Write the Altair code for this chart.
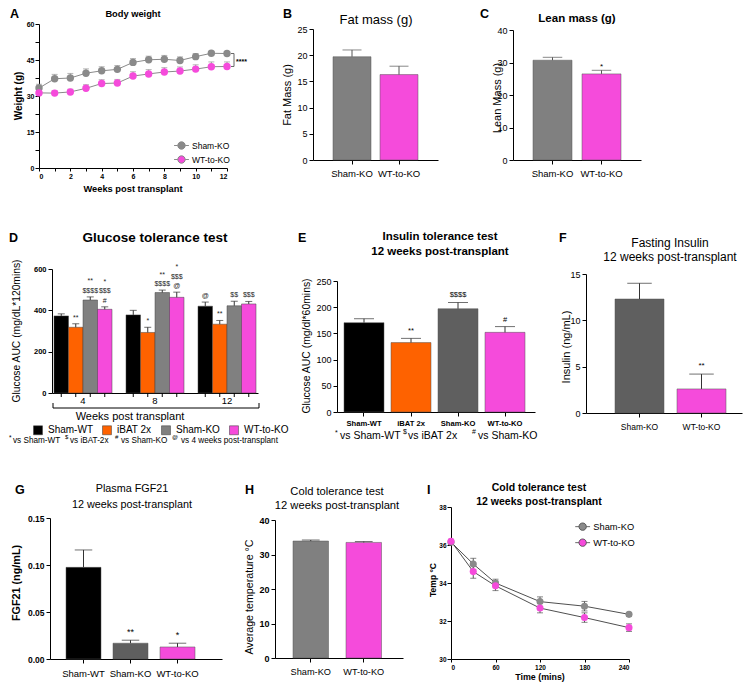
import altair as alt
import pandas as pd

FONT = "Liberation Sans, Arial, sans-serif"

# ---------------- data ----------------
# A: body weight
A_weeks = list(range(13))
A_sham = [33.3, 37.2, 37.5, 39.5, 40.5, 41.1, 44.0, 45.1, 45.3, 44.8, 46.4, 47.8, 47.7]
A_sham_err = [1.6, 1.8, 1.9, 1.8, 1.7, 1.6, 1.6, 1.5, 1.6, 1.5, 1.3, 0.8, 0.8]
A_wt = [31.3, 31.2, 31.7, 33.2, 35.2, 35.4, 38.3, 39.2, 40.0, 40.4, 41.2, 42.2, 42.3]
A_wt_err = [1.1, 1.0, 1.1, 1.5, 1.6, 1.5, 1.8, 1.8, 1.8, 1.7, 1.8, 2.0, 1.9]

KO2 = ["Sham-KO", "WT-to-KO"]
# B, C: body composition
B_fat = [19.7, 16.3]
B_fat_err = [1.3, 1.6]
C_lean = [30.7, 26.5]
C_lean_err = [0.9, 1.1]
C_stars = ["", "*"]

# D: glucose tolerance test
D_weeks = ["4", "8", "12"]
D_groups = ["Sham-WT", "iBAT 2x", "Sham-KO", "WT-to-KO"]
D_auc = {"4": [373, 318, 450, 405], "8": [378, 293, 486, 463], "12": [420, 333, 422, 431]}
D_err = {"4": [10, 17, 15, 12], "8": [22, 25, 12, 25], "12": [20, 18, 22, 12]}
D_marks = {
    "4": [[], ["**"], ["**", "$$$$"], ["*", "$$$", "#"]],
    "8": [[], ["*"], ["**", "$$$$"], ["*", "$$$", "@"]],
    "12": [["@"], ["**"], ["$$"], ["$$$"]],
}

# E: insulin tolerance test
E_auc = [170.5, 132.5, 197.0, 152.0]
E_err = [7.5, 8.0, 12.0, 11.0]
E_stars = ["", "**", "$$$$", "#"]

# F: fasting insulin
F_ins = [12.3, 2.6]
F_err = [1.7, 1.6]
F_stars = ["", "**"]

# G: plasma FGF21
G_groups = ["Sham-WT", "Sham-KO", "WT-to-KO"]
G_fgf = [0.0975, 0.0168, 0.0128]
G_err = [0.0185, 0.0032, 0.0040]
G_stars = ["", "**", "*"]

# H: cold tolerance average
H_temp = [33.9, 33.5]
H_err = [0.3, 0.25]

# I: cold tolerance time course
I_time = [0, 30, 60, 120, 180, 240]
I_sham = [36.15, 35.0, 34.0, 33.02, 32.78, 32.35]
I_sham_err = [0.1, 0.3, 0.2, 0.25, 0.25, 0.1]
I_wt = [36.2, 34.6, 33.85, 32.68, 32.18, 31.65]
I_wt_err = [0.1, 0.35, 0.25, 0.25, 0.25, 0.2]

BLACK = "#000000"
ORANGE = "#fe6200"
PINK = "#f54bdb"
GRAY = "#808080"
DGRAY = "#5f5f5f"
PGRAY = "#8a8a8a"

# legend glyph: circle with a line through it
LINE_DOT = ("M -2 0 L -1 0 M 1 0 L 2 0 "
            "M 1 0 A 1 1 0 1 1 -1 0 A 1 1 0 1 1 1 0 Z")

# grid of view origins (page pixels): column lefts and row tops
COL = [39, 275, 451]
COLW = [236, 176, 292]
ROW = [24, 168, 413]


# ---------------- helpers ----------------
def one():
    return pd.DataFrame({"k": [0]})


def anchor(vx, vy, px, py):
    # 1px white mark fixing the top-left corner of the whole figure
    return alt.Chart(one()).mark_rect(color="white").encode(
        x=alt.value(px - vx), x2=alt.value(px - vx + 1),
        y=alt.value(py - vy), y2=alt.value(py - vy + 1))


def txt(vx, vy, px, py, s, size, bold=False, align="center", angle=0, baseline="middle"):
    return alt.Chart(pd.DataFrame({"s": [s]})).mark_text(
        font=FONT, fontSize=size, fontWeight="bold" if bold else "normal",
        align=align, baseline=baseline, angle=angle, color="black").encode(
        x=alt.value(px - vx), y=alt.value(py - vy), text="s:N")


def texts(vx, vy, items):
    out = []
    for it in items:
        px, py, s, size = it[:4]
        opts = it[4] if len(it) > 4 else {}
        out.append(txt(vx, vy, px, py, s, size, **opts))
    return out


def yaxis(values, size=8, bold=False, pad=2, fmt=None, label_expr=None, dx=0):
    kw = dict(title=None, values=values, labelFontSize=size,
              labelFontWeight="bold" if bold else "normal", tickSize=4,
              labelPadding=pad, grid=False, labelFont=FONT)
    if fmt:
        kw["format"] = fmt
    if label_expr:
        kw["labelExpr"] = label_expr
    if dx:
        kw["offset"] = -dx
    return alt.Axis(**kw)


def bar_panel(ci, ri, px, py, w, h, cats, vals, errs, colors, stars, ydom, yvals,
              step, bw, left, ysize, ybold, xsize, xbold, xpad, star_gap,
              star_size, items, yfmt=None, err_color="#333333", cap_frac=0.5):
    vx, vy = COL[ci], ROW[ri]
    dx, dy = px - vx, py - vy
    n = len(cats)
    outer = w - (step * (n - 1) + bw)
    xs = alt.Scale(domain=cats, paddingInner=1 - bw / step,
                   paddingOuter=outer / (2 * step), align=left / outer, range=[dx, dx + w])
    df = pd.DataFrame({"cat": cats, "val": vals, "err": errs,
                       "top": [v + e for v, e in zip(vals, errs)],
                       "star": stars})
    X = alt.X("cat:N", scale=xs, sort=cats,
              axis=alt.Axis(title=None, labelAngle=0, labelFontSize=xsize,
                            labelFontWeight="bold" if xbold else "normal",
                            tickSize=4, labelPadding=xpad, labelFont=FONT))
    ys = alt.Scale(domain=ydom, nice=False, zero=True, range=[h + dy, dy])
    ax = yaxis(yvals, ysize, ybold, 2, yfmt, dx=dx)
    Y = alt.Y("val:Q", scale=ys, axis=ax)
    Yt = alt.Y("top:Q", scale=ys, axis=ax)
    base = alt.Chart(df)
    bars = base.mark_bar(stroke="#555555", strokeWidth=0.5).encode(
        x=X, y=Y, color=alt.Color("cat:N", scale=alt.Scale(domain=cats, range=colors), legend=None))
    rule = base.mark_rule(color=err_color, strokeWidth=1).encode(x=X, y=Y, y2=alt.Y2("top:Q"))
    cap = base.mark_tick(color=err_color, orient="horizontal", thickness=1,
                         size=bw * cap_frac).encode(x=X, y=Yt)
    st = base.mark_text(font=FONT, fontSize=star_size, dy=-star_gap, color="black",
                        baseline="middle").encode(x=X, y=Yt, text="star:N")
    layers = [bars, rule, cap, st] + texts(vx, vy, items)
    return alt.layer(*layers).properties(width=COLW[ci], height=h + dy)


def letter(x, y, s):
    return (x, y, s, 12.5, {"bold": True, "align": "left", "baseline": "top"})


# ---------------- Panel A ----------------
vxA, vyA = COL[0], ROW[0]
pxA, pyA, wA, hA = 39, 24, 188, 144
dxA, dyA = pxA - vxA, pyA - vyA
dfA = pd.DataFrame({"week": A_weeks * 2, "wt": A_sham + A_wt,
                    "err": A_sham_err + A_wt_err,
                    "grp": ["Sham-KO"] * 13 + ["WT-to-KO"] * 13})
dfA["top"] = dfA["wt"] + dfA["err"]
xsA = alt.Scale(domain=[0, 12], nice=False, range=[dxA, dxA + wA])
ysA = alt.Scale(domain=[0, 60], nice=False, range=[dyA + hA, dyA])
axA_x = alt.Axis(title=None, values=A_weeks, labelExpr="datum.value % 2 == 0 ? datum.label : ''",
                 labelFontSize=7, labelFontWeight="bold", tickSize=3, labelPadding=1.5, labelFont=FONT)
axA_y = yaxis([0, 7.5, 15, 22.5, 30, 37.5, 45, 52.5, 60], 7, True, 1,
              label_expr="datum.value % 15 == 0 ? datum.label : ''", dx=dxA)
XA = alt.X("week:Q", scale=xsA, axis=axA_x)
YA = alt.Y("wt:Q", scale=ysA, axis=axA_y)
YAt = alt.Y("top:Q", scale=ysA, axis=axA_y)
bA = alt.Chart(dfA)
A_line = bA.mark_line(color=PGRAY, strokeWidth=1).encode(x=XA, y=YA, detail="grp:N")
A_err = bA.mark_rule(color="#999999", strokeWidth=1).encode(x=XA, y=YA, y2=alt.Y2("top:Q"))
A_cap = bA.mark_tick(color="#999999", orient="horizontal", thickness=1, size=6).encode(x=XA, y=YAt)
A_pts = bA.mark_point(filled=True, size=55, opacity=1).encode(
    x=XA, y=YA,
    color=alt.Color("grp:N", scale=alt.Scale(domain=KO2, range=[PGRAY, PINK]),
                    legend=alt.Legend(orient="none", legendX=177 - vxA, legendY=141 - vyA, title=None,
                                      labelFontSize=8.5, labelFont=FONT, symbolType=LINE_DOT,
                                      symbolStrokeColor="#8a8a8a", symbolStrokeWidth=1,
                                      symbolSize=55, rowPadding=1, padding=0, labelOffset=6)))
brA = pd.DataFrame({"lo": [A_wt[-1]], "hi": [A_sham[-1]], "mid": [(A_wt[-1] + A_sham[-1]) / 2],
                    "s": ["****"]})
bbA = alt.Chart(brA)
xr = dxA + wA
A_br = bbA.mark_rule(color="#666666").encode(x=alt.value(xr + 7), y=alt.Y("lo:Q", scale=ysA, axis=axA_y), y2="hi:Q")
A_br1 = bbA.mark_rule(color="#666666").encode(x=alt.value(xr + 4), x2=alt.value(xr + 7), y=alt.Y("lo:Q", scale=ysA, axis=axA_y))
A_br2 = bbA.mark_rule(color="#666666").encode(x=alt.value(xr + 4), x2=alt.value(xr + 7), y=alt.Y("hi:Q", scale=ysA, axis=axA_y))
A_st = bbA.mark_text(font=FONT, fontSize=7, fontWeight="bold", align="left", dy=2).encode(
    x=alt.value(xr + 9), y=alt.Y("mid:Q", scale=ysA, axis=axA_y), text="s:N")
A_items = [letter(10, 8, "A"), (133, 14, "Body weight", 9.3, {"bold": True}),
           (19, 96, "Weight (g)", 10, {"bold": True, "angle": 270}),
           (133, 189, "Weeks post transplant", 9.3, {"bold": True})]
panelA = alt.layer(anchor(vxA, vyA, 8, 8), A_line, A_err, A_cap, A_pts,
                   A_br, A_br1, A_br2, A_st, *texts(vxA, vyA, A_items)).properties(
    width=COLW[0], height=dyA + hA)

# ---------------- Panel B ----------------
panelB = bar_panel(1, 0, 313, 29, 125, 131, KO2, B_fat, B_fat_err, [GRAY, PINK],
                   ["", ""], [0, 25], [0, 5, 10, 15, 20, 25], 47, 38, 20, 9, False, 9.5, False, 4.5,
                   4, 8,
                   [letter(283, 8, "B"), (376, 20, "Fat mass (g)", 13),
                    (288, 95, "Fat Mass (g)", 11, {"angle": 270})], err_color="#555555")

# ---------------- Panel C ----------------
panelC = bar_panel(2, 0, 513, 30, 128, 130, KO2, C_lean, C_lean_err, [GRAY, PINK],
                   C_stars, [0, 40], [0, 10, 20, 30, 40], 49, 39, 20, 9, False, 9.5, False, 4.5,
                   3, 8,
                   [letter(480, 8, "C"), (577, 19, "Lean mass (g)", 11.5, {"bold": True}),
                    (498, 98, "Lean Mass (g)", 11, {"angle": 270})], err_color="#555555")

# ---------------- Panel D ----------------
vxD, vyD = COL[0], ROW[1]
pxD, pyD, wD, hD = 52, 269, 206, 124
dxD, dyD = pxD - vxD, pyD - vyD
rowsD, annD = [], []
for wk in D_weeks:
    for gi, g in enumerate(D_groups):
        top = D_auc[wk][gi] + D_err[wk][gi]
        rowsD.append(dict(week=wk, grp=g, val=D_auc[wk][gi], err=D_err[wk][gi], top=top))
        for k, s in enumerate(reversed(D_marks[wk][gi])):
            annD.append(dict(week=wk, grp=g, top=top, s=s, line=k))
dfD = pd.DataFrame(rowsD)
dfDa = pd.DataFrame(annD)
stepD, bwD = 72, 58
outerD = wD - (stepD * 2 + bwD)
xsD = alt.Scale(domain=D_weeks, paddingInner=1 - bwD / stepD, paddingOuter=outerD / (2 * stepD),
                align=0.5, range=[dxD, dxD + wD])
XD = alt.X("week:N", sort=D_weeks, scale=xsD,
           axis=alt.Axis(title=None, labelAngle=0, ticks=False, labelFontSize=9.5, labelPadding=2.5, labelFont=FONT))
XOD = alt.XOffset("grp:N", sort=D_groups, scale=alt.Scale(domain=D_groups, paddingInner=0, paddingOuter=0))
ysD = alt.Scale(domain=[0, 600], nice=False, range=[hD + dyD, dyD])
axD_y = yaxis([0, 200, 400, 600], 7.5, True, 2, dx=dxD)
YD = alt.Y("val:Q", scale=ysD, axis=axD_y)
YDt = alt.Y("top:Q", scale=ysD, axis=axD_y)
bD = alt.Chart(dfD)
D_bars = bD.mark_bar(stroke="#444444", strokeWidth=0.5).encode(
    x=XD, xOffset=XOD, y=YD,
    color=alt.Color("grp:N", scale=alt.Scale(domain=D_groups, range=[BLACK, ORANGE, GRAY, PINK]),
                    legend=alt.Legend(orient="none", legendX=33 - vxD, legendY=425 - vyD, title=None,
                                      direction="horizontal", columns=4, symbolType="square",
                                      symbolSize=80, symbolStrokeColor="#333333", symbolStrokeWidth=0.5,
                                      labelFontSize=10, labelFont=FONT, columnPadding=8,
                                      padding=0, labelOffset=5)))
D_err_r = bD.mark_rule(color="#333333").encode(x=XD, xOffset=XOD, y=YD, y2=alt.Y2("top:Q"))
D_cap = bD.mark_tick(color="#333333", orient="horizontal", thickness=1, size=7).encode(x=XD, xOffset=XOD, y=YDt)
D_ticks = bD.mark_rule(color="black").encode(x=XD, xOffset=XOD, y=alt.value(dyD + hD), y2=alt.value(dyD + hD + 4))
D_ann = []
for k in range(3):
    D_ann.append(alt.Chart(dfDa).transform_filter(alt.datum.line == k).mark_text(
        font=FONT, fontSize=7, dy=-(6 + 9.5 * k), color="#222222").encode(
        x=XD, xOffset=XOD, y=YDt, text="s:N"))
D_brk = [
    alt.Chart(one()).mark_rule(color="black").encode(
        x=alt.value(53 - vxD), x2=alt.value(259 - vxD), y=alt.value(408 - vyD)),
    alt.Chart(one()).mark_rule(color="black").encode(
        x=alt.value(53 - vxD), y=alt.value(403 - vyD), y2=alt.value(408 - vyD)),
    alt.Chart(one()).mark_rule(color="black").encode(
        x=alt.value(259 - vxD), y=alt.value(403 - vyD), y2=alt.value(408 - vyD)),
]
D_items = [letter(9, 232, "D"), (155, 238, "Glucose tolerance test", 13.5, {"bold": True}),
           (17, 331, "Glucose AUC (mg/dL*120mins)", 10.3, {"angle": 270}),
           (130, 417, "Weeks post transplant", 11),
           (9, 438, "*", 6.5, {"align": "left"}), (13, 441, "vs Sham-WT", 8.2, {"align": "left"}),
           (65, 437, "$", 6, {"align": "left"}), (70, 441, "vs iBAT-2x", 8.2, {"align": "left"}),
           (115, 437, "#", 6, {"align": "left"}), (121, 441, "vs Sham-KO", 8.2, {"align": "left"}),
           (172, 437, "@", 6, {"align": "left"}), (181, 441, "vs 4 weeks post-transplant", 8.2, {"align": "left"})]
panelD = alt.layer(D_bars, D_err_r, D_cap, D_ticks, *D_ann,
                   *D_brk, *texts(vxD, vyD, D_items)).properties(width=COLW[0], height=hD + dyD)

# ---------------- Panel E ----------------
panelE = bar_panel(1, 1, 337, 281, 198, 131, D_groups, E_auc, E_err,
                   [BLACK, ORANGE, DGRAY, PINK], E_stars, [0, 250], [0, 50, 100, 150, 200, 250],
                   47, 40, 7, 9, False, 7.6, True, 3, 7, 7.5,
                   [letter(298, 232, "E"),
                    (440, 237, "Insulin tolerance test", 11.5, {"bold": True}),
                    (440, 252, "12 weeks post-transplant", 11.5, {"bold": True}),
                    (307, 346, "Glucose AUC (mg/dl*60mins)", 10.4, {"angle": 270}),
                    (335, 433, "*", 7, {"align": "left"}), (340, 436, "vs Sham-WT", 10.5, {"align": "left"}),
                    (403, 432, "$", 7, {"align": "left"}), (408, 436, "vs iBAT 2x", 10.5, {"align": "left"}),
                    (472, 432, "#", 7, {"align": "left"}), (478, 436, "vs Sham-KO", 10.5, {"align": "left"})])

# ---------------- Panel F ----------------
panelF = bar_panel(2, 1, 586, 274, 156, 139, KO2, F_ins, F_err, [DGRAY, PINK],
                   F_stars, [0, 15], [0, 5, 10, 15], 62, 49, 29, 9, False, 8.5, False, 5,
                   8, 8,
                   [letter(559, 232, "F"),
                    (670, 243, "Fasting Insulin", 12),
                    (670, 257, "12 weeks post-transplant", 12),
                    (567, 347, "Insulin (ng/mL)", 11, {"angle": 270})])

# ---------------- Panel G ----------------
panelG = bar_panel(0, 2, 50, 518, 172, 141, G_groups, G_fgf, G_err,
                   [BLACK, DGRAY, PINK], G_stars, [0, 0.15], [0, 0.05, 0.10, 0.15],
                   47, 35, 16, 8.5, True, 9.5, False, 5.5, 8, 9,
                   [letter(15, 484, "G"),
                    (132, 489, "Plasma FGF21", 10.8),
                    (132, 505, "12 weeks post-transplant", 10.8),
                    (17, 583, "FGF21 (ng/mL)", 10.8, {"bold": True, "angle": 270})], yfmt=".2f")

# ---------------- Panel H ----------------
panelH = bar_panel(1, 2, 275, 520, 128, 138, KO2, H_temp, H_err, [GRAY, PINK],
                   ["", ""], [0, 40], [0, 10, 20, 30, 40], 53, 35.5, 18, 9, True, 9.2, False, 5.5,
                   4, 8,
                   [letter(245, 484, "H"),
                    (337, 492, "Cold tolerance test", 11.2),
                    (337, 506, "12 weeks post-transplant", 11.2),
                    (250, 597, "Average temperature °C", 10.7, {"angle": 270})])

# ---------------- Panel I ----------------
vxI, vyI = COL[2], ROW[2]
pxI, pyI, wI, hI = 451, 507, 178, 152
dxI, dyI = pxI - vxI, pyI - vyI
dfI = pd.DataFrame({"t": I_time * 2, "temp": I_sham + I_wt, "err": I_sham_err + I_wt_err,
                    "grp": ["Sham-KO"] * 6 + ["WT-to-KO"] * 6})
dfI["lo"] = dfI["temp"] - dfI["err"]
dfI["hi"] = dfI["temp"] + dfI["err"]
xsI = alt.Scale(domain=[0, 240], nice=False, range=[dxI, dxI + wI])
ysI = alt.Scale(domain=[30, 38], nice=False, zero=False, range=[hI + dyI, dyI])
axI_x = alt.Axis(title=None, values=[0, 60, 120, 180, 240], labelFontSize=6.5, labelFontWeight="bold",
                 tickSize=3, labelPadding=2.5, labelFont=FONT)
axI_y = yaxis([30, 32, 34, 36, 38], 6.5, True, 1, dx=dxI)
XI = alt.X("t:Q", scale=xsI, axis=axI_x)
YI = alt.Y("temp:Q", scale=ysI, axis=axI_y)
YIlo = alt.Y("lo:Q", scale=ysI, axis=axI_y)
YIhi = alt.Y("hi:Q", scale=ysI, axis=axI_y)
bI = alt.Chart(dfI)
I_line = bI.mark_line(color="#222222", strokeWidth=0.8).encode(x=XI, y=YI, detail="grp:N")
I_err = bI.mark_rule(color="#555555").encode(x=XI, y=YIlo, y2=alt.Y2("hi:Q"))
I_cap1 = bI.mark_tick(color="#555555", orient="horizontal", thickness=1, size=6).encode(x=XI, y=YIlo)
I_cap2 = bI.mark_tick(color="#555555", orient="horizontal", thickness=1, size=6).encode(x=XI, y=YIhi)
I_pts = bI.mark_point(filled=True, size=50, opacity=1).encode(
    x=XI, y=YI,
    color=alt.Color("grp:N", scale=alt.Scale(domain=KO2, range=[PGRAY, PINK]),
                    legend=alt.Legend(orient="none", legendX=578 - vxI, legendY=522 - vyI, title=None,
                                      labelFontSize=9.3, labelFont=FONT, symbolType=LINE_DOT,
                                      symbolStrokeColor="#444444", symbolStrokeWidth=0.8,
                                      symbolSize=55, rowPadding=5, padding=0, labelOffset=6)))
I_items = [letter(427, 484, "I"),
           (539, 488, "Cold tolerance test", 10.5, {"bold": True}),
           (539, 502, "12 weeks post-transplant", 10.5, {"bold": True}),
           (433, 580, "Temp °C", 8.5, {"bold": True, "angle": 270}),
           (540, 677, "Time (mins)", 8.9, {"bold": True})]
panelI = alt.layer(I_line, I_err, I_cap1, I_cap2, I_pts,
                   *texts(vxI, vyI, I_items)).properties(width=COLW[2], height=hI + dyI)

# ---------------- layout: 3x3 flush grid ----------------
chart = alt.concat(panelA, panelB, panelC, panelD, panelE, panelF, panelG, panelH, panelI,
                   columns=3, spacing=0, bounds="flush").resolve_scale(
    x="independent", y="independent", color="independent").resolve_legend(
    color="independent").properties(padding=0).configure_view(
    stroke=None).configure_axis(
    domainColor="black", tickColor="black", labelColor="black", domainWidth=1, tickWidth=1,
    grid=False, labelFont=FONT, titleFont=FONT).configure_legend(labelFont=FONT)

chart.save("out.html", embed_options={"renderer": "svg", "actions": False})
